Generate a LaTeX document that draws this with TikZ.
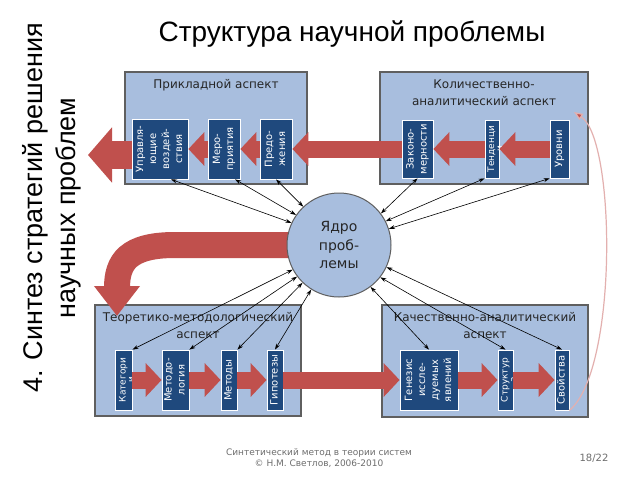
\documentclass[tikz,border=0pt]{standalone}
\usepackage{fontspec}
\setmainfont{DejaVu Sans}
\newfontfamily\arialfont{Liberation Sans}
\usepackage{graphicx}
\usetikzlibrary{arrows.meta,positioning,calc}

\definecolor{aspectfill}{RGB}{168,190,222}
\definecolor{aspectline}{RGB}{95,95,95}
\definecolor{itemfill}{RGB}{31,73,125}
\definecolor{arrowred}{RGB}{192,80,77}
\definecolor{footgray}{RGB}{110,110,110}

\newcommand{\vlabel}[2][0pt]{\makebox[0pt]{\hspace*{#1}\rotatebox{90}{\begin{tabular}{@{}c@{}}#2\end{tabular}}}}

\begin{document}
\begin{tikzpicture}[x=1pt,y=-1pt]
  \tikzstyle{aspect}=[rectangle,draw=aspectline,fill=aspectfill,line width=1.2pt,inner sep=0pt]
  \tikzstyle{atitle}=[align=center,inner sep=0pt,text=black!85,font=\fontsize{12}{17}\selectfont]
  \tikzstyle{item}=[rectangle,draw=white,fill=itemfill,line width=0.8pt,inner sep=0pt,
    text=white,font=\fontsize{10}{13}\selectfont]
  \tikzstyle{tight}=[font=\fontsize{9}{8.5}\selectfont]
  \tikzstyle{flow}=[draw=arrowred,line width=17pt,-{Triangle[length=16pt,width=33pt]}]
  \tikzstyle{bigout}=[draw=arrowred,line width=28pt,-{Triangle[length=24pt,width=54pt]}]
  \tikzstyle{bigturn}=[draw=arrowred,line width=26pt,-{Triangle[length=30pt,width=44pt]}]
  \tikzstyle{backarc}=[draw=arrowred!45,line width=1.2pt,-{Triangle[length=9pt,width=7pt,fill=arrowred]}]
  \tikzstyle{link}=[<->,>={Stealth[length=6pt,width=4pt]},line width=0.6pt]

  \fill[white] (0,0) rectangle (640,480);
  \useasboundingbox (0,0) rectangle (640,480);

  \node[font=\arialfont\fontsize{28}{30}\selectfont] (title) at (352,34) {Структура научной проблемы};
  \node[rotate=90,align=center,font=\arialfont\fontsize{27}{33}\selectfont] (side) at (52,208)
    {4. Синтез стратегий решения\\научных проблем};

  \node[aspect,minimum width=182pt,minimum height=112pt] (a1) at (216,128) {};
  \node[aspect,minimum width=208pt,minimum height=112pt] (a2) at (484,128) {};
  \node[aspect,minimum width=206pt,minimum height=111pt] (a3) at (198,360.5) {};
  \node[aspect,minimum width=206pt,minimum height=112pt] (a4) at (485,361) {};
  \node[atitle,below=8pt of a1.north] (t1) {Прикладной аспект};
  \node[atitle,below=8pt of a2.north] (t2) {Количественно-\\аналитический аспект};
  \node[atitle,below=8pt of a3.north] (t3) {Теоретико-методологический\\аспект};
  \node[atitle,below=8pt of a4.north] (t4) {Качественно-аналитический\\аспект};

  \node[item,minimum width=56pt,minimum height=60pt] (upr) at (160,149) {\vlabel{Управля-\\ющие\\воздей-\\ствия}};
  \node[item,minimum width=32pt,minimum height=60pt] (mer) at (224,149) {\vlabel{Меро-\\приятия}};
  \node[item,minimum width=32pt,minimum height=60pt] (pred) at (276,149) {\vlabel{Предо-\\жения}};
  \node[item,minimum width=31pt,minimum height=58pt] (zak) at (417.5,149) {\vlabel{Законо-\\мерности}};
  \node[item,tight,minimum width=14pt,minimum height=58pt] (tend) at (492,149) {\vlabel[8.5pt]{Тенденци\\и}};
  \node[item,minimum width=19pt,minimum height=58pt] (urov) at (559.5,149) {\vlabel{Уровни}};

  \node[item,tight,minimum width=17pt,minimum height=60pt] (kat) at (123.5,380) {\vlabel[8.5pt]{Категори\\и}};
  \node[item,minimum width=27pt,minimum height=60pt] (metl) at (175.5,380) {\vlabel{Методо-\\логия}};
  \node[item,minimum width=16pt,minimum height=60pt] (met) at (229,380) {\vlabel{Методы}};
  \node[item,minimum width=16pt,minimum height=60pt] (gip) at (275,380) {\vlabel{Гипотезы}};
  \node[item,minimum width=58pt,minimum height=60pt] (gen) at (429,380) {\vlabel{Генезис\\иссле-\\дуемых\\явлений}};
  \node[item,tight,minimum width=15pt,minimum height=60pt] (str) at (505.5,380) {\vlabel[8.5pt]{Структур\\а}};
  \node[item,minimum width=14pt,minimum height=60pt] (svoi) at (562,380) {\vlabel{Свойства}};

  \draw[flow] (urov.west) -- (tend.east);
  \draw[flow] (tend.west) -- (zak.east);
  \draw[flow] (zak.west) -- (pred.east);
  \draw[flow] (pred.west) -- (mer.east);
  \draw[flow] (mer.west) -- (upr.east);
  \coordinate (out) at (88,155);
  \draw[bigout] (upr.west |- out) -- (out);

  \draw[flow] (kat.east) -- (metl.west);
  \draw[flow] (metl.east) -- (met.west);
  \draw[flow] (met.east) -- (gip.west);
  \draw[flow] (gip.east) -- (gen.west);
  \draw[flow] (gen.east) -- (str.west);
  \draw[flow] (str.east) -- (svoi.west);

  \coordinate (down) at (117,316);
  \draw[bigturn] (339,245) -- (175,245) .. controls (128,245) and (117,262) .. (down);

  \node[circle,draw=aspectline,fill=aspectfill,line width=1pt,minimum size=104pt,inner sep=0pt,
    align=center,text=black!85,font=\fontsize{14}{18.5}\selectfont] (core) at (339,245) {Ядро\\проб-\\лемы};

  \draw[link] (upr.-70) -- (core.155);
  \draw[link] (mer.-70) -- (core.145);
  \draw[link] (pred.south) -- (core.133);
  \draw[link] (zak.south) -- (core.37);
  \draw[link] (tend.south west) -- (core.27);
  \draw[link] (urov.south west) -- (core.18);
  \draw[link] (core.208) -- (kat.north east);
  \draw[link] (core.217) -- (metl.north east);
  \draw[link] (core.226) -- (met.north east);
  \draw[link] (core.238) -- (gip.north);
  \draw[link] (core.307) -- (gen.north);
  \draw[link] (core.322) -- (str.north);
  \draw[link] (core.335) -- (svoi.north);

  \coordinate (loopend) at (574,112);
  \draw[backarc] (svoi.south east) .. controls (618,370) and (616,140) .. (loopend);

  \node[align=center,text=footgray,font=\fontsize{9}{11}\selectfont] (foot) at (319,458)
    {Синтетический метод в теории систем\\© Н.М. Светлов, 2006-2010};
  \node[text=footgray,font=\fontsize{10}{12}\selectfont] (page) at (594,458) {18/22};
\end{tikzpicture}
\end{document}
